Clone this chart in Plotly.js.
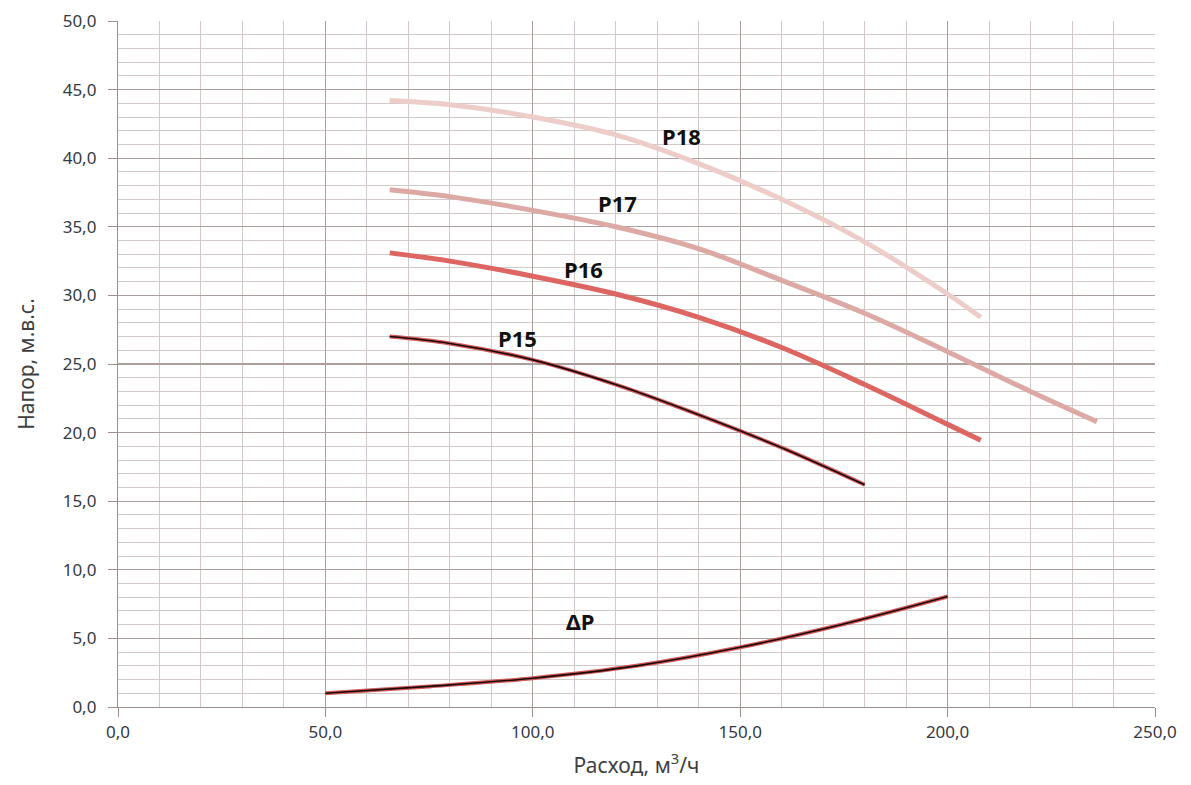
<!DOCTYPE html>
<html>
<head>
<meta charset="utf-8">
<script src="https://cdn.plot.ly/plotly-3.0.1.min.js"></script>
<style>html,body{margin:0;padding:0;background:#fff;}#chart{width:1191px;height:785px;}</style>
</head>
<body>
<div id="chart"></div>
<script>
// Flow (m3/h) and head (m) values
const flowP18 = [65.5, 80, 100, 120, 140, 160, 180, 200, 208];
const headP18 = [44.2, 43.9, 43.0, 41.7, 39.6, 37.0, 33.9, 30.1, 28.4];

const flowP17 = [65.5, 80, 100, 120, 140, 160, 180, 200, 220, 236];
const headP17 = [37.7, 37.2, 36.2, 35.0, 33.4, 31.1, 28.7, 25.9, 23.0, 20.8];

const flowP16 = [65.5, 80, 100, 120, 140, 160, 180, 200, 208];
const headP16 = [33.1, 32.5, 31.4, 30.1, 28.4, 26.2, 23.5, 20.6, 19.45];

const flowP15 = [65.5, 80, 100, 120, 140, 160, 180];
const headP15 = [27.0, 26.5, 25.3, 23.5, 21.3, 18.9, 16.2];

const flowDP = [50, 75, 100, 125, 150, 175, 200];
const headDP = [1.0, 1.5, 2.1, 3.0, 4.35, 6.05, 8.05];

const labelText = ['P18', 'P17', 'P16', 'P15', 'ΔP'];
const labelX = [135.9, 120.5, 112.3, 96.4, 111.3];
const labelY = [41.6, 36.7, 31.9, 26.9, 6.3];

const xTitle = 'Расход, м<sup>3</sup>/ч';
const yTitle = 'Напор, м.в.с.';

function line(x, y, color, width) {
  return {x: x, y: y, type: 'scatter', mode: 'lines',
    line: {color: color, width: width, shape: 'spline', smoothing: 1},
    hoverinfo: 'skip', showlegend: false};
}

const traces = [
  line(flowP18, headP18, '#edcdc9', 5),
  line(flowP17, headP17, '#dca9a5', 5),
  line(flowP16, headP16, '#dd6662', 5),
  line(flowP15, headP15, '#d25a58', 4),
  line(flowP15, headP15, '#1a0a0a', 1.6),
  line(flowDP, headDP, '#d25a58', 4),
  line(flowDP, headDP, '#1a0a0a', 1.6)
];

const annotations = labelText.map((t, i) => ({
  x: labelX[i], y: labelY[i], xref: 'x', yref: 'y', text: '<b>' + t + '</b>',
  showarrow: false, font: {family: 'Noto Sans', size: 22, color: '#111'}
}));

const layout = {
  width: 1191, height: 785,
  margin: {l: 118, r: 36, t: 21, b: 78},
  paper_bgcolor: '#fff', plot_bgcolor: '#fff',
  separators: ', ',
  font: {family: 'Noto Sans', color: '#404040'},
  xaxis: {
    range: [0, 250], dtick: 50, tick0: 0, tickformat: '.1f',
    showgrid: true, gridcolor: '#ad9e9e', gridwidth: 1.2,
    minor: {dtick: 10, showgrid: true, gridcolor: '#d3c9c9', gridwidth: 1, ticks: ''},
    showline: true, linecolor: '#9e8e8e', linewidth: 1.2,
    ticks: 'outside', ticklen: 9, tickcolor: '#9e8e8e',
    tickfont: {size: 17, color: '#353a45'},
    zeroline: false, fixedrange: true,
    title: {text: xTitle, font: {size: 21, color: '#404040'}, standoff: 16}
  },
  yaxis: {
    range: [0, 50], dtick: 5, tick0: 0, tickformat: '.1f',
    showgrid: true, gridcolor: '#ad9e9e', gridwidth: 1.2,
    minor: {dtick: 1, showgrid: true, gridcolor: '#d3c9c9', gridwidth: 1, ticks: ''},
    showline: true, linecolor: '#9e8e8e', linewidth: 1.2,
    ticks: 'outside', ticklen: 9, tickcolor: '#9e8e8e',
    tickfont: {size: 17, color: '#353a45'},
    ticklabelstandoff: 8,
    zeroline: false, fixedrange: true,
    title: {text: yTitle, font: {size: 21, color: '#404040'}, standoff: 22}
  },
  annotations: annotations
};

Plotly.newPlot('chart', traces, layout, {displayModeBar: false, staticPlot: true});
</script>
</body>
</html>
